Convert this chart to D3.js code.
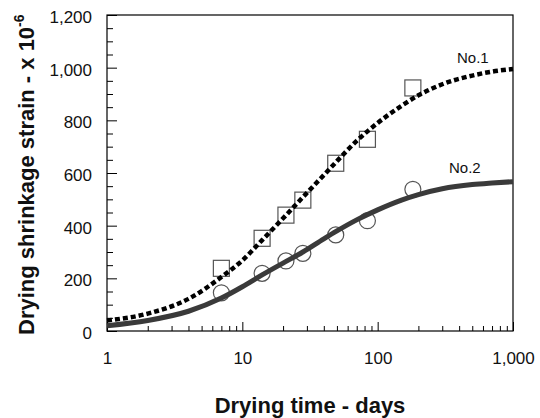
<!DOCTYPE html>
<html>
<head>
<meta charset="utf-8">
<script src="https://cdn.jsdelivr.net/npm/d3@7/dist/d3.min.js"></script>
<style>
  html, body { margin: 0; padding: 0; background: #fff; }
  svg { display: block; font-family: "Liberation Sans", Arial, sans-serif; }
</style>
</head>
<body>
<svg id="chart" width="540" height="418"></svg>
<script>
// ---- data ----
const xTicks = [1, 10, 100, 1000];
const yTicks = [0, 200, 400, 600, 800, 1000, 1200];
const obsDays = [7, 14, 21, 28, 49, 84, 182];
const no1Obs = [238, 352, 440, 497, 637, 728, 923];
const no2Obs = [145, 219, 266, 295, 365, 419, 538];
const fitDays = [1, 2, 4, 7, 10, 14, 20, 28, 40, 50, 70, 100, 150, 200, 300, 500, 700, 1000];
const no1Fit = [40, 66, 122, 205, 268, 345, 428, 508, 592, 645, 722, 790, 855, 895, 937, 970, 985, 995];
const no2Fit = [20, 40, 75, 125, 168, 213, 258, 300, 350, 380, 422, 460, 497, 518, 540, 556, 562, 567];
const seriesLabels = ["No.1", "No.2"];
const xTitle = "Drying time - days";
const yTitle = "Drying shrinkage strain - x 10";
const ySup = "-6";

// ---- layout ----
const L = 107, R = 513, T = 15, B = 331;
const svg = d3.select("#chart");
const x = d3.scaleLog().domain([1, 1000]).range([L, R]);
const y = d3.scaleLinear().domain([0, 1200]).range([B, T]);

// minor ticks
const xMinor = [];
[1, 10, 100].forEach(d => { for (let k = 2; k <= 9; k++) xMinor.push(d * k); });
const yMinor = d3.range(0, 1201, 50).filter(v => v % 200 !== 0);

// y axis
const gy = svg.append("g").attr("transform", `translate(${L},0)`);
gy.call(d3.axisLeft(y).tickValues(yMinor).tickSize(-6).tickFormat(""));
gy.append("g").call(d3.axisLeft(y).tickValues(yTicks).tickSize(-10).tickPadding(15).tickFormat(d3.format(",")));
gy.selectAll(".domain").remove();
gy.selectAll("text").attr("font-size", 17).attr("fill", "#111").attr("dy", "0.44em")
  .attr("font-family", "'Liberation Sans', Arial, sans-serif");

// x axis
const gx = svg.append("g").attr("transform", `translate(0,${B})`);
gx.call(d3.axisBottom(x).tickValues(xMinor).tickSize(-5).tickFormat(""));
gx.append("g").call(d3.axisBottom(x).tickValues(xTicks).tickSize(-9).tickPadding(21).tickFormat(d3.format(",")));
gx.selectAll(".domain").remove();
gx.selectAll("text").attr("font-size", 17).attr("fill", "#111")
  .attr("font-family", "'Liberation Sans', Arial, sans-serif");
svg.selectAll(".tick line").attr("stroke", "#000").attr("stroke-width", 1);

// frame
svg.append("rect").attr("x", L).attr("y", T).attr("width", R - L).attr("height", B - T)
  .attr("fill", "none").attr("stroke", "#000").attr("stroke-width", 1.2);

// markers
svg.append("g").selectAll("rect").data(obsDays.map((d, i) => [d, no1Obs[i]])).join("rect")
  .attr("x", d => x(d[0]) - 8).attr("y", d => y(d[1]) - 8)
  .attr("width", 16).attr("height", 16)
  .attr("fill", "none").attr("stroke", "#555").attr("stroke-width", 1.2);
svg.append("g").selectAll("circle").data(obsDays.map((d, i) => [d, no2Obs[i]])).join("circle")
  .attr("cx", d => x(d[0])).attr("cy", d => y(d[1])).attr("r", 8)
  .attr("fill", "none").attr("stroke", "#555").attr("stroke-width", 1.2);

// fitted curves
const line = d3.line().x(d => x(d[0])).y(d => y(d[1])).curve(d3.curveMonotoneX);
svg.append("path").datum(fitDays.map((d, i) => [d, no2Fit[i]]))
  .attr("d", line).attr("fill", "none").attr("stroke", "#3a3a3a").attr("stroke-width", 5);
svg.append("path").datum(fitDays.map((d, i) => [d, no1Fit[i]]))
  .attr("d", line).attr("fill", "none").attr("stroke", "#000").attr("stroke-width", 4.5)
  .attr("stroke-dasharray", "5,3");

// series labels
svg.append("text").attr("x", 457).attr("y", 63).attr("font-size", 15).attr("fill", "#111").text(seriesLabels[0]);
svg.append("text").attr("x", 449).attr("y", 173).attr("font-size", 15).attr("fill", "#111").text(seriesLabels[1]);

// axis titles
svg.append("text").attr("x", (L + R) / 2).attr("y", 413).attr("text-anchor", "middle")
  .attr("font-size", 22).attr("font-weight", "bold").attr("fill", "#111").text(xTitle);
const yt = svg.append("text").attr("transform", "translate(34,335) rotate(-90)")
  .attr("text-anchor", "start").attr("font-size", 22).attr("font-weight", "bold").attr("fill", "#111");
yt.append("tspan").text(yTitle);
yt.append("tspan").attr("font-size", 14).attr("dy", -10).text(ySup);
</script>
</body>
</html>
